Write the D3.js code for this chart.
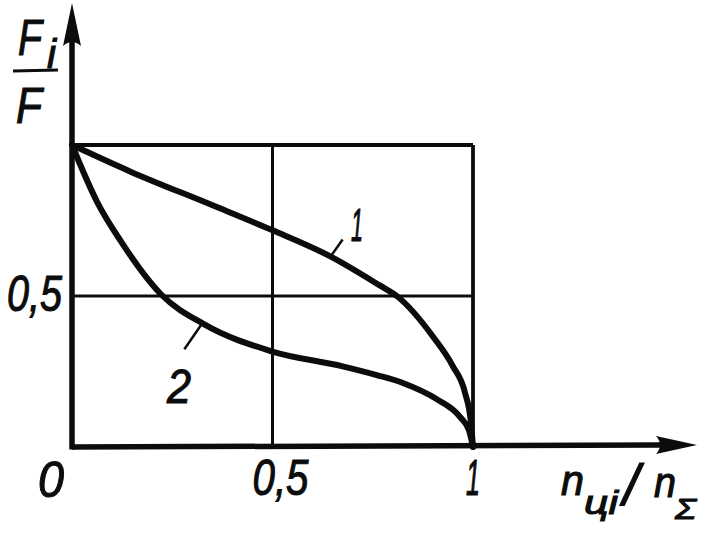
<!DOCTYPE html>
<html>
<head>
<meta charset="utf-8">
<script src="https://cdn.jsdelivr.net/npm/d3@7"></script>
<style>
  html, body { margin: 0; padding: 0; background: #fff; }
  svg { display: block; }
  text { font-family: "Liberation Sans", Arial, sans-serif; font-style: italic; fill: #0c0c0c; stroke: #0c0c0c; stroke-width: 1.1; }
</style>
</head>
<body>
<svg id="chart" width="704" height="534"></svg>
<script>
// ---- data ----
const curve1X = [0, 0.1475, 0.3475, 0.4975, 0.643, 0.7675, 0.81, 0.9, 0.95, 0.98, 0.995, 1];
const curve1Y = [1, 0.911, 0.802, 0.719, 0.632, 0.535, 0.5, 0.366, 0.267, 0.18, 0.08, 0];
const curve2X = [0, 0.0625, 0.1225, 0.2225, 0.33, 0.4975, 0.675, 0.76, 0.825, 0.91, 0.9675, 0.99, 1];
const curve2Y = [1, 0.812, 0.68, 0.505, 0.406, 0.317, 0.267, 0.238, 0.212, 0.158, 0.1, 0.055, 0];
const xTickValues = [0.5, 1];
const xTickLabels = ["0,5", "1"];
const yTickValues = [0.5];
const yTickLabels = ["0,5"];
const gridX = [0.5, 1];
const gridY = [0.5, 1];
const curveNames = ["1", "2"];

// ---- scales ----
const x = d3.scaleLinear().domain([0, 1]).range([72, 473]);
const y = d3.scaleLinear().domain([0, 1]).range([447, 145]);

const svg = d3.select("#chart");
const ink = "#0c0c0c";

// grid
svg.append("g").selectAll("line").data(gridX).join("line")
  .attr("x1", d => x(d)).attr("x2", d => x(d))
  .attr("y1", y(0)).attr("y2", y(1))
  .attr("stroke", ink).attr("stroke-width", d => d === 1 ? 3.8 : 3);
svg.append("g").selectAll("line").data(gridY).join("line")
  .attr("x1", x(0)).attr("x2", x(1))
  .attr("y1", d => y(d)).attr("y2", d => y(d))
  .attr("stroke", ink).attr("stroke-width", d => d === 1 ? 3.8 : 3);

// axes lines with arrows
svg.append("line").attr("x1", x(0)).attr("x2", 660).attr("y1", y(0)).attr("y2", y(0) - 2)
  .attr("stroke", ink).attr("stroke-width", 5.5);
svg.append("line").attr("x1", x(0)).attr("x2", x(0)).attr("y1", y(0) + 2.5).attr("y2", 42)
  .attr("stroke", ink).attr("stroke-width", 5.5);
// arrowheads
svg.append("path")
  .attr("d", `M697,${y(0) - 2} L656,${y(0) - 11} Q664,${y(0) - 2} 656,${y(0) + 7} Z`)
  .attr("fill", ink);
svg.append("path")
  .attr("d", `M${x(0)},3 L${x(0) - 9},46 Q${x(0)},38 ${x(0) + 9},46 Z`)
  .attr("fill", ink);

// curves
const line = d3.line().x(d => x(d[0])).y(d => y(d[1])).curve(d3.curveMonotoneX);
const c1 = curve1X.map((v, i) => [v, curve1Y[i]]);
const c2 = curve2X.map((v, i) => [v, curve2Y[i]]);
[c1, c2].forEach(c => {
  svg.append("path").attr("d", line(c))
    .attr("fill", "none").attr("stroke", ink).attr("stroke-width", 6)
    .attr("stroke-linecap", "round").attr("stroke-linejoin", "round");
});

// text helper
function label(txt, px, py, size, len, anchor) {
  const t = svg.append("text").text(txt)
    .attr("x", px).attr("y", py)
    .attr("font-size", size)
    .attr("text-anchor", anchor || "start");
  if (len) t.attr("textLength", len).attr("lengthAdjust", "spacingAndGlyphs");
  return t;
}
// tick labels
xTickValues.forEach((v, i) => {
  const t = xTickLabels[i];
  label(t, x(v) + (t === "1" ? 0 : 8), 495, 50, t === "1" ? 14 : 56, "middle");
});
yTickValues.forEach((v, i) => {
  label(yTickLabels[i], 7, y(v) + 15, 50, 55);
});
label("0", x(0) - 34, 497, 50, 26);

// y axis title: Fi / F
label("F", 18, 55, 50, 24);
label("i", 47, 68, 40, 9);
svg.append("line").attr("x1", 13).attr("x2", 58).attr("y1", 71).attr("y2", 70)
  .attr("stroke", ink).attr("stroke-width", 3.2);
label("F", 16, 123, 50, 26);

// x axis title: nці / nΣ
label("n", 561, 495, 42, 23);
label("ці", 584, 514, 34, 34);
label("/", 623, 505, 58);
label("n", 654, 497, 42, 22);
label("Σ", 675, 519, 30, 21);

// curve labels with leader lines
const lead1 = [x(0.645), y(0.631)];
svg.append("line").attr("x1", lead1[0]).attr("y1", lead1[1])
  .attr("x2", lead1[0] + 12).attr("y2", lead1[1] - 17)
  .attr("stroke", ink).attr("stroke-width", 2.5);
label(curveNames[0], 357, 241, 46, 12, "middle");

const lead2 = [x(0.325), y(0.41)];
svg.append("line").attr("x1", lead2[0]).attr("y1", lead2[1])
  .attr("x2", lead2[0] - 18).attr("y2", lead2[1] + 26)
  .attr("stroke", ink).attr("stroke-width", 2.5);
label(curveNames[1], 179, 403, 48, 24, "middle");
</script>
</body>
</html>
